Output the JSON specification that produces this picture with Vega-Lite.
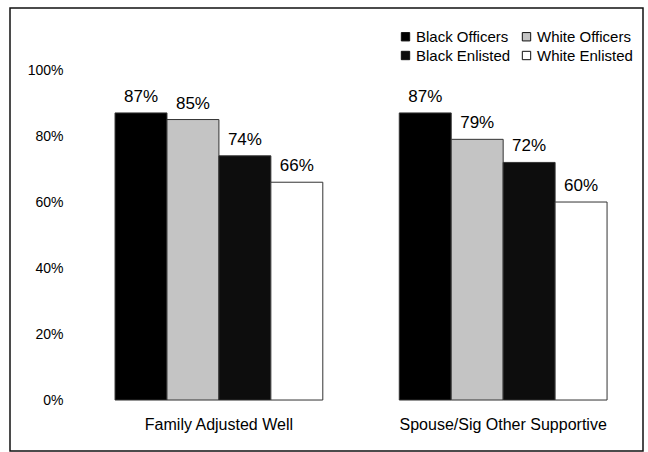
{
  "$schema": "https://vega.github.io/schema/vega-lite/v6.json",
  "autosize": "none",
  "width": 633,
  "height": 443,
  "padding": {"left": 10, "top": 8, "right": 5, "bottom": 1},
  "background": "white",
  "config": {
    "font": "Liberation Sans",
    "view": {"stroke": "#111", "strokeWidth": 1.5},
    "axis": {"labelFont": "Liberation Sans", "labelColor": "#000"},
    "legend": {"labelFont": "Liberation Sans", "labelColor": "#000"}
  },
  "data": {
    "values": [
      {"group": "Family Adjusted Well", "series": "Black Officers", "value": 0.87},
      {"group": "Family Adjusted Well", "series": "White Officers", "value": 0.85},
      {"group": "Family Adjusted Well", "series": "Black Enlisted", "value": 0.74},
      {"group": "Family Adjusted Well", "series": "White Enlisted", "value": 0.66},
      {"group": "Spouse/Sig Other Supportive", "series": "Black Officers", "value": 0.87},
      {"group": "Spouse/Sig Other Supportive", "series": "White Officers", "value": 0.79},
      {"group": "Spouse/Sig Other Supportive", "series": "Black Enlisted", "value": 0.72},
      {"group": "Spouse/Sig Other Supportive", "series": "White Enlisted", "value": 0.60}
    ]
  },
  "encoding": {
    "x": {
      "field": "group", "type": "nominal", "sort": null,
      "scale": {"paddingInner": 0.269, "paddingOuter": 0.248, "align": 0.745},
      "axis": {"title": null, "labelAngle": 0, "ticks": false, "domain": false, "offset": -49, "labelPadding": 14, "labelFontSize": 16, "labelBaseline": "top", "labelLimit": 0}
    },
    "xOffset": {
      "field": "series", "type": "nominal",
      "sort": ["Black Officers", "White Officers", "Black Enlisted", "White Enlisted"],
      "scale": {"paddingInner": 0, "paddingOuter": 0}
    },
    "y": {
      "field": "value", "type": "quantitative",
      "scale": {"domain": [-0.1545, 1.188], "nice": false, "zero": false},
      "axis": {"title": null, "format": ".0%", "values": [0, 0.2, 0.4, 0.6, 0.8, 1], "grid": false, "ticks": false, "domain": false, "offset": -55, "labelPadding": 2, "labelFontSize": 14}
    }
  },
  "layer": [
    {
      "mark": {"type": "bar", "stroke": "#333", "strokeWidth": 1},
      "encoding": {
        "y2": {"datum": 0},
        "color": {
          "field": "series", "type": "nominal",
          "scale": {
            "domain": ["Black Officers", "White Officers", "Black Enlisted", "White Enlisted"],
            "range": ["#000000", "#c4c4c4", "#0d0d0d", "#ffffff"]
          },
          "legend": {
            "title": null, "orient": "none", "legendX": 388, "legendY": 21,
            "columns": 2, "direction": "horizontal",
            "symbolType": "square", "symbolSize": 70, "symbolStrokeColor": "#111", "symbolStrokeWidth": 1,
            "symbolOpacity": 1, "labelFontSize": 15, "columnPadding": 8, "rowPadding": 3, "labelOffset": 3, "labelLimit": 0
          }
        }
      }
    },
    {
      "mark": {"type": "text", "baseline": "bottom", "dy": -7, "fontSize": 17, "color": "#000"},
      "encoding": {
        "text": {"field": "value", "type": "quantitative", "format": ".0%"}
      }
    }
  ]
}
